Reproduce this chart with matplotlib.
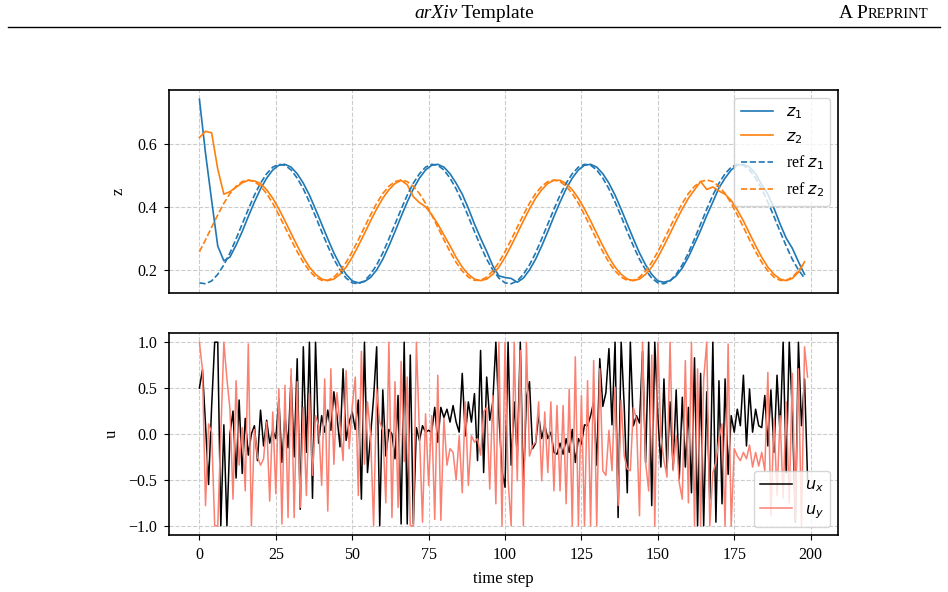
import numpy as np
import matplotlib
matplotlib.use("Agg")
import matplotlib.pyplot as plt
from matplotlib.lines import Line2D

plt.rcParams["font.family"] = "serif"
plt.rcParams["font.serif"] = ["Liberation Serif", "DejaVu Serif"]
plt.rcParams["mathtext.fontset"] = "dejavusans"

# ---------------- DATA ----------------
# state trajectories, sampled every 2nd time step
t_z = np.arange(0, 200, 2)

z1 = [0.742, 0.570, 0.420, 0.275, 0.228, 0.240, 0.278, 0.321, 0.369, 0.415,
      0.457, 0.491, 0.517, 0.532, 0.535, 0.526, 0.505, 0.475, 0.437, 0.392,
      0.345, 0.298, 0.253, 0.215, 0.185,
      0.164, 0.158, 0.162, 0.175, 0.199, 0.233, 0.275, 0.321, 0.369, 0.415,
      0.457, 0.491, 0.517, 0.532, 0.535, 0.526, 0.505, 0.475, 0.440, 0.395,
      0.345, 0.300, 0.258, 0.212, 0.180,
      0.175, 0.172, 0.160, 0.173, 0.199, 0.233, 0.275, 0.321, 0.369, 0.415,
      0.457, 0.491, 0.517, 0.532, 0.535, 0.526, 0.505, 0.475, 0.437, 0.392,
      0.345, 0.298, 0.253, 0.215, 0.185,
      0.164, 0.160, 0.165, 0.180, 0.205, 0.240, 0.282, 0.325, 0.372, 0.415,
      0.460, 0.491, 0.517, 0.532, 0.535, 0.526, 0.505, 0.470, 0.440, 0.395,
      0.345, 0.300, 0.268, 0.225, 0.185]

z2 = [0.620, 0.640, 0.635, 0.520, 0.440, 0.448, 0.462, 0.476, 0.484, 0.482,
      0.474, 0.454, 0.427, 0.393, 0.355, 0.315, 0.276, 0.239, 0.208, 0.185,
      0.170, 0.165, 0.170, 0.185, 0.208,
      0.239, 0.276, 0.315, 0.355, 0.393, 0.427, 0.454, 0.474, 0.484, 0.470,
      0.432, 0.413, 0.400, 0.375, 0.345, 0.310, 0.276, 0.239, 0.208, 0.185,
      0.170, 0.165, 0.170, 0.185, 0.208,
      0.239, 0.276, 0.315, 0.355, 0.393, 0.427, 0.454, 0.474, 0.484, 0.484,
      0.474, 0.454, 0.427, 0.393, 0.355, 0.315, 0.276, 0.239, 0.208, 0.185,
      0.170, 0.165, 0.170, 0.185, 0.208,
      0.239, 0.276, 0.315, 0.355, 0.393, 0.427, 0.454, 0.480, 0.455, 0.463,
      0.450, 0.440, 0.420, 0.390, 0.355, 0.315, 0.276, 0.239, 0.208, 0.185,
      0.170, 0.165, 0.172, 0.192, 0.225]

ref_z1 = [0.158, 0.155, 0.164, 0.185, 0.215, 0.253, 0.298, 0.345, 0.392, 0.437,
          0.475, 0.505, 0.526, 0.535, 0.532, 0.517, 0.491, 0.457, 0.415, 0.369,
          0.321, 0.275, 0.233, 0.199, 0.173,
          0.158, 0.155, 0.164, 0.185, 0.215, 0.253, 0.298, 0.345, 0.392, 0.437,
          0.475, 0.505, 0.526, 0.535, 0.532, 0.517, 0.491, 0.457, 0.415, 0.369,
          0.321, 0.275, 0.233, 0.199, 0.173,
          0.158, 0.155, 0.164, 0.185, 0.215, 0.253, 0.298, 0.345, 0.392, 0.437,
          0.475, 0.505, 0.526, 0.535, 0.532, 0.517, 0.491, 0.457, 0.415, 0.369,
          0.321, 0.275, 0.233, 0.199, 0.173,
          0.158, 0.155, 0.164, 0.185, 0.215, 0.253, 0.298, 0.345, 0.392, 0.437,
          0.475, 0.505, 0.526, 0.535, 0.532, 0.517, 0.491, 0.457, 0.415, 0.369,
          0.321, 0.275, 0.233, 0.199, 0.173]

ref_z2 = [0.257, 0.295, 0.335, 0.374, 0.411, 0.442, 0.465, 0.480, 0.485, 0.480,
          0.465, 0.442, 0.411, 0.374, 0.335, 0.295, 0.257, 0.223, 0.196, 0.176,
          0.166, 0.166, 0.176, 0.196, 0.223,
          0.257, 0.295, 0.335, 0.374, 0.411, 0.442, 0.465, 0.480, 0.485, 0.480,
          0.465, 0.442, 0.411, 0.374, 0.335, 0.295, 0.257, 0.223, 0.196, 0.176,
          0.166, 0.166, 0.176, 0.196, 0.223,
          0.257, 0.295, 0.335, 0.374, 0.411, 0.442, 0.465, 0.480, 0.485, 0.480,
          0.465, 0.442, 0.411, 0.374, 0.335, 0.295, 0.257, 0.223, 0.196, 0.176,
          0.166, 0.166, 0.176, 0.196, 0.223,
          0.257, 0.295, 0.335, 0.374, 0.411, 0.442, 0.465, 0.480, 0.485, 0.480,
          0.465, 0.442, 0.411, 0.374, 0.335, 0.295, 0.257, 0.223, 0.196, 0.176,
          0.166, 0.166, 0.176, 0.196, 0.223]

# control inputs, every time step
t_u = np.arange(200)

u_x = [0.50, 0.70, 0.10, -0.55, 0.30, 1.00, 1.00, -1.00, 0.10, -1.00,
       0.00, 0.25, -0.48, 0.37, -0.43, 0.17, -0.23, 0.00, 0.09, -0.29,
       0.26, -0.13, 0.15, -0.10, 0.04, -0.05, 0.38, -0.31, 0.20, -0.15,
       0.62, -0.25, 0.82, -0.82, 0.95, -0.20, 1.00, -0.70, 1.00, -0.10,
       0.20, 0.02, 0.26, 0.04, 0.46, 0.20, -0.14, 0.71, -0.07, 0.13,
       0.24, 0.05, 0.37, -0.71, 1.00, -0.42, -0.02, 0.40, 0.95, -1.00,
       0.48, -0.24, 0.05, 0.00, -0.27, 0.42, -0.98, 1.00, -0.98, 0.86,
       -0.98, 0.07, -0.07, 0.09, 0.02, 0.04, 0.02, 0.29, -0.09, 0.29,
       0.18, 0.27, 0.13, 0.31, 0.13, 0.02, 0.66, -0.02, 0.35, 0.13,
       0.44, -0.29, 0.91, -0.42, 0.62, 0.15, 0.35, 1.00, 0.20, -0.40,
       -0.58, 1.00, -0.34, 0.35, -0.25, 1.00, -0.60, 0.40, 0.57, -0.16,
       -0.10, 0.20, -0.05, 0.10, -0.05, 0.02, -0.20, -0.22, -0.10, -0.22,
       -0.05, -0.20, 0.05, -0.31, -0.05, -0.11, 0.10, 0.09, 0.20, 0.35,
       -0.34, 0.82, 0.30, 0.45, 0.93, 0.10, 1.00, -0.91, 1.00, 0.30,
       -0.64, 1.00, 0.09, 0.20, 0.12, 0.90, -0.31, 1.00, -0.78, 1.00,
       0.20, -0.36, 0.60, -0.38, 0.35, -0.38, 0.48, -0.49, 0.40, -0.36,
       0.29, -0.64, 0.83, -1.00, 0.66, -1.00, 0.46, -0.71, 1.00, -0.96,
       0.58, -0.76, 0.60, -0.44, 0.20, 0.02, 0.27, 0.09, 0.64, -0.13,
       0.49, 0.02, 0.27, 0.09, 0.07, 0.42, -0.13, 0.48, -0.20, 0.64,
       0.00, 1.00, -0.42, 1.00, 0.24, -0.96, 1.00, 0.09, 0.60, -0.50]

u_y = [1.00, 0.70, -0.78, 0.11, 0.02, -1.00, -1.00, 0.00, 1.00, 0.60,
       0.27, -0.71, 0.58, -0.34, 0.07, -0.62, 0.98, -1.00, 0.05, -0.25,
       -0.34, -0.27, 0.13, -0.73, 0.24, -0.65, 0.49, -0.98, 0.53, -0.91,
       0.71, -0.91, 0.57, -0.80, 0.29, -0.67, 0.44, -0.45, 0.20, 0.09,
       -0.56, 0.60, -0.84, 0.71, -0.33, 0.45, 0.10, -0.29, 0.69, -0.16,
       0.30, 0.62, -0.67, 0.90, -0.33, 0.35, 0.00, -1.00, 0.49, 0.13,
       0.04, -0.75, 1.00, -0.91, 0.57, -0.80, 0.79, -0.30, 0.62, -1.00,
       -1.00, 1.00, 0.00, -0.96, 0.22, -0.56, 0.20, -0.93, 0.64, -0.94,
       0.17, -0.34, -0.16, -0.20, -0.50, -0.02, -0.64, 0.35, -0.56, -0.02,
       -0.09, -0.05, -0.23, 0.24, 0.29, -0.60, 0.42, -0.76, 1.00, -1.00,
       1.00, -0.50, -1.00, 1.00, -0.51, 0.91, -1.00, 1.00, -0.24, -0.13,
       -0.09, 0.35, -0.51, 0.24, -0.42, 0.35, -0.62, 0.31, -0.62, 0.31,
       -0.76, 0.49, -1.00, 0.84, -1.00, 0.42, -1.00, 0.58, -1.00, 0.80,
       -1.00, 0.71, -0.40, -0.45, 0.04, -0.40, 0.51, -0.78, 0.37, -0.24,
       -0.38, -0.40, 0.29, 0.16, -0.89, 1.00, -0.31, -0.62, 0.86, -1.00,
       1.00, -0.02, -0.29, -0.47, 1.00, -0.40, -0.02, -0.53, -0.71, 0.80,
       -0.75, 1.00, -1.00, 0.71, -1.00, 0.60, 1.00, -1.00, -0.42, -0.31,
       -0.05, 0.11, -1.00, 0.98, -1.00, -0.16, -0.24, -0.29, -0.20, -0.27,
       -0.12, -0.36, -0.20, -0.35, -0.20, -0.40, 0.67, -0.89, 0.17, -0.67,
       0.20, -0.70, 0.35, -0.75, 0.66, -0.95, 0.71, -1.00, 0.95, 0.62]

C_Z1 = "#1f77b4"
C_Z2 = "#ff7f0e"

# ---------------- FIGURE ----------------
fig = plt.figure(figsize=(9.48, 5.92), dpi=100)
W, H = 948, 592

def px_axes(x0, y0, x1, y1):
    return fig.add_axes([x0 / W, 1 - y1 / H, (x1 - x0) / W, (y1 - y0) / H])

ax1 = px_axes(169, 90, 838, 293)
ax2 = px_axes(169, 333, 838, 535)

# top: states
ax1.plot(t_z, z1, color=C_Z1, lw=1.2, label=r"$z_1$")
ax1.plot(t_z, z2, color=C_Z2, lw=1.2, label=r"$z_2$")
ax1.plot(t_z, ref_z1, color=C_Z1, lw=1.2, ls="--", label=r"ref $z_1$")
ax1.plot(t_z, ref_z2, color=C_Z2, lw=1.2, ls="--", label=r"ref $z_2$")
ax1.set_ylabel("z", fontsize=12, labelpad=8)
ax1.set_yticks([0.2, 0.4, 0.6])
ax1.tick_params(axis="x", bottom=False, labelbottom=False)
ax1.legend(loc="upper right", fontsize=11.5)

# bottom: controls
ax2.plot(t_u, u_x, color="black", lw=1.1, label=r"$u_x$")
ax2.plot(t_u, u_y, color="salmon", lw=1.1, label=r"$u_y$")
ax2.set_ylabel("u", fontsize=12, labelpad=6)
ax2.set_xlabel("time step", fontsize=12, labelpad=6)
ax2.set_yticks([-1.0, -0.5, 0.0, 0.5, 1.0])
ax2.legend(loc="lower right", fontsize=11.5)

for ax in (ax1, ax2):
    ax.set_xlim(-9.95, 208.95)
    ax.set_xticks(np.arange(0, 201, 25))
    ax.grid(True, ls="--", color="#cccccc", lw=0.8)
    ax.tick_params(labelsize=11.5, pad=5)
    for s in ax.spines.values():
        s.set_linewidth(1.2)

# ---------------- PAGE HEADER ----------------
fig.canvas.draw()
r = fig.canvas.get_renderer()
hy = 1 - 14 / H

t_a = fig.text(0, hy, "arXiv", fontsize=14, style="italic", va="center")
t_b = fig.text(0, hy, " Template", fontsize=14, va="center")
wa = t_a.get_window_extent(r).width
wb = t_b.get_window_extent(r).width
x0 = 474 - (wa + wb) / 2
t_a.set_x(x0 / W)
t_b.set_x((x0 + wa) / W)

t_c = fig.text(928 / W, hy, "REPRINT", fontsize=10.5, ha="right", va="center")
wc = t_c.get_window_extent(r).width
fig.text((928 - wc) / W, hy, "A P", fontsize=14, ha="right", va="center")

fig.add_artist(Line2D([8 / W, 940 / W], [1 - 27 / H, 1 - 27 / H],
                      color="black", lw=1.0))

fig.savefig("out.png", dpi=100)
